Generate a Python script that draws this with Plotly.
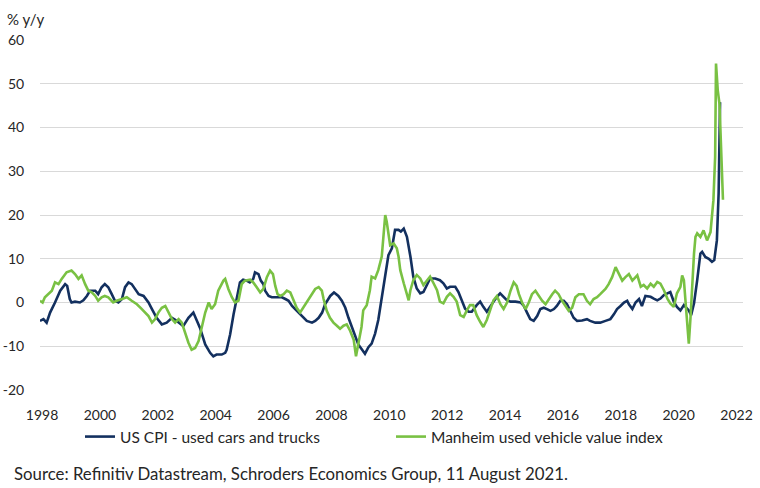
import plotly.graph_objects as go

# US CPI - used cars and trucks (% y/y), time in decimal years
cpi_t = [1997.93, 1998.05, 1998.16, 1998.28, 1998.45, 1998.63, 1998.80, 1998.87, 1998.96, 1999.02,
         1999.14, 1999.31, 1999.43, 1999.55, 1999.66, 1999.84, 1999.94, 2000.06, 2000.17, 2000.29,
         2000.41, 2000.52, 2000.64, 2000.76, 2000.87, 2000.99, 2001.10, 2001.22, 2001.34, 2001.51,
         2001.68, 2001.80, 2001.96, 2002.14, 2002.31, 2002.49, 2002.66, 2002.88, 2003.06, 2003.23,
         2003.46, 2003.64, 2003.81, 2003.92, 2004.03, 2004.21, 2004.33, 2004.38, 2004.50, 2004.62,
         2004.73, 2004.84, 2004.95, 2005.07, 2005.18, 2005.30, 2005.36, 2005.48, 2005.56, 2005.65,
         2005.71, 2005.83, 2005.94, 2006.12, 2006.29, 2006.41, 2006.52, 2006.64, 2006.80, 2006.98,
         2007.15, 2007.33, 2007.44, 2007.56, 2007.68, 2007.78, 2007.96, 2008.09, 2008.24, 2008.36,
         2008.48, 2008.59, 2008.77, 2008.93, 2009.16, 2009.28, 2009.39, 2009.51, 2009.62, 2009.74,
         2009.86, 2009.97, 2010.09, 2010.20, 2010.32, 2010.40, 2010.50, 2010.61, 2010.73, 2010.83,
         2010.95, 2011.07, 2011.18, 2011.30, 2011.41, 2011.59, 2011.75, 2011.87, 2011.99, 2012.10,
         2012.28, 2012.39, 2012.51, 2012.62, 2012.74, 2012.85, 2013.02, 2013.14, 2013.25, 2013.37,
         2013.48, 2013.60, 2013.72, 2013.83, 2013.95, 2014.07, 2014.19, 2014.36, 2014.54, 2014.65,
         2014.76, 2014.87, 2014.99, 2015.11, 2015.22, 2015.34, 2015.45, 2015.57, 2015.69, 2015.79,
         2015.91, 2016.03, 2016.14, 2016.26, 2016.37, 2016.49, 2016.66, 2016.83, 2016.94, 2017.12,
         2017.29, 2017.47, 2017.64, 2017.76, 2017.87, 2017.99, 2018.11, 2018.22, 2018.28, 2018.40,
         2018.51, 2018.63, 2018.73, 2018.85, 2019.03, 2019.14, 2019.26, 2019.37, 2019.49, 2019.61,
         2019.71, 2019.77, 2019.83, 2019.94, 2020.06, 2020.18, 2020.23, 2020.35, 2020.43, 2020.53,
         2020.64, 2020.75, 2020.81, 2020.92, 2021.04, 2021.15, 2021.23, 2021.32, 2021.38, 2021.43]
cpi_v = [-4.2, -3.8, -4.6, -2.3, 0.0, 2.7, 4.2, 3.8, 0.8, 0.0,
         0.2, 0.0, 0.5, 1.5, 2.7, 2.7, 1.9, 3.5, 4.2, 3.5,
         1.9, 0.4, 0.0, 0.8, 3.5, 4.6, 4.2, 3.1, 1.9, 1.5,
         0.0, -1.5, -3.5, -5.0, -4.6, -3.5, -4.2, -5.4, -3.5, -2.3,
         -5.8, -9.6, -11.5, -12.3, -11.9, -11.9, -11.5, -10.8, -7.3, -2.7,
         1.2, 4.6, 5.2, 5.0, 4.6, 5.4, 6.9, 6.5, 5.0, 4.2,
         2.7, 1.5, 1.2, 1.2, 1.2, 0.8, 0.4, -0.8, -1.9, -3.1,
         -4.2, -4.6, -4.2, -3.5, -2.3, -0.4, 1.5, 2.3, 1.5, 0.4,
         -1.2, -3.5, -6.5, -9.6, -11.7, -10.2, -9.4, -7.1, -4.0, 1.3,
         6.6, 10.8, 12.4, 16.6, 16.6, 16.2, 16.9, 15.0, 10.5, 5.9,
         3.2, 2.1, 2.4, 4.0, 5.5, 5.5, 5.1, 4.4, 3.2, 3.6,
         3.6, 2.4, 0.5, -1.4, -2.1, -2.1, -0.6, 0.2, -1.0, -2.1,
         -1.0, 0.2, 1.3, 2.1, 1.3, 0.5, 0.2, 0.2, 0.0, -0.8,
         -2.3, -3.8, -4.2, -3.1, -1.5, -1.2, -1.5, -1.9, -1.5, -0.8,
         0.4, 0.4, -0.4, -1.9, -3.5, -4.2, -4.1, -3.8, -4.2, -4.6,
         -4.6, -4.2, -3.8, -2.7, -1.5, -0.8, 0.0, 0.4, -0.4, -1.5,
         0.0, 0.8, -0.8, 1.5, 1.3, 0.9, 0.5, 0.9, 1.7, 2.1,
         2.4, 1.3, 0.2, -1.0, -1.8, -0.6, -1.0, -1.8, -2.9, -0.2,
         5.1, 11.2, 11.6, 10.4, 10.0, 9.3, 9.7, 14.2, 24.9, 45.8]

# Manheim used vehicle value index (% y/y), time in decimal years
man_t = [1997.93, 1998.02, 1998.10, 1998.22, 1998.34, 1998.45, 1998.57, 1998.68, 1998.85, 1999.02,
         1999.14, 1999.26, 1999.37, 1999.49, 1999.60, 1999.72, 1999.84, 1999.94, 2000.06, 2000.17,
         2000.29, 2000.46, 2000.58, 2000.76, 2000.93, 2001.10, 2001.28, 2001.45, 2001.57, 2001.68,
         2001.80, 2001.91, 2002.02, 2002.14, 2002.26, 2002.37, 2002.49, 2002.60, 2002.72, 2002.83,
         2002.94, 2003.06, 2003.17, 2003.29, 2003.41, 2003.52, 2003.64, 2003.76, 2003.86, 2003.98,
         2004.09, 2004.27, 2004.33, 2004.44, 2004.56, 2004.67, 2004.79, 2004.90, 2005.01, 2005.19,
         2005.30, 2005.42, 2005.54, 2005.65, 2005.77, 2005.88, 2005.98, 2006.06, 2006.14, 2006.23,
         2006.35, 2006.46, 2006.58, 2006.70, 2006.80, 2006.92, 2007.03, 2007.21, 2007.33, 2007.44,
         2007.56, 2007.67, 2007.73, 2007.84, 2007.95, 2008.07, 2008.19, 2008.30, 2008.42, 2008.53,
         2008.65, 2008.77, 2008.85, 2008.93, 2009.04, 2009.10, 2009.22, 2009.33, 2009.39, 2009.51,
         2009.62, 2009.74, 2009.80, 2009.86, 2009.91, 2010.03, 2010.15, 2010.26, 2010.32, 2010.38,
         2010.50, 2010.61, 2010.67, 2010.73, 2010.83, 2010.95, 2011.07, 2011.18, 2011.30, 2011.41,
         2011.53, 2011.65, 2011.75, 2011.87, 2011.99, 2012.10, 2012.22, 2012.33, 2012.45, 2012.57,
         2012.68, 2012.79, 2012.90, 2013.02, 2013.14, 2013.25, 2013.37, 2013.48, 2013.60, 2013.72,
         2013.84, 2013.95, 2014.07, 2014.19, 2014.30, 2014.40, 2014.48, 2014.59, 2014.71, 2014.82,
         2014.93, 2015.05, 2015.16, 2015.28, 2015.40, 2015.51, 2015.63, 2015.73, 2015.85, 2015.97,
         2016.08, 2016.20, 2016.32, 2016.43, 2016.55, 2016.71, 2016.83, 2016.94, 2017.06, 2017.18,
         2017.29, 2017.47, 2017.58, 2017.70, 2017.82, 2017.93, 2018.05, 2018.16, 2018.28, 2018.40,
         2018.51, 2018.57, 2018.69, 2018.79, 2018.91, 2019.03, 2019.14, 2019.26, 2019.37, 2019.49,
         2019.61, 2019.71, 2019.83, 2019.94, 2020.06, 2020.12, 2020.18, 2020.23, 2020.29, 2020.35,
         2020.41, 2020.47, 2020.53, 2020.58, 2020.64, 2020.75, 2020.86, 2020.98, 2021.10, 2021.20,
         2021.26, 2021.29, 2021.35, 2021.41, 2021.47, 2021.53]
man_v = [0.4, 0.0, 1.2, 1.9, 2.7, 4.6, 4.2, 5.4, 6.9, 7.3,
         6.5, 5.4, 6.2, 4.2, 2.7, 2.3, 1.5, 0.4, 1.2, 1.5,
         1.2, 0.0, 0.4, 0.8, 1.2, 0.4, -0.4, -1.5, -2.3, -3.1,
         -4.6, -3.8, -2.3, -1.2, -0.8, -2.3, -3.8, -4.6, -3.8, -4.6,
         -6.9, -9.2, -10.8, -10.4, -8.8, -5.8, -2.3, 0.0, -1.5, -0.4,
         2.7, 5.0, 5.4, 3.1, 1.2, 0.0, 0.4, 4.2, 5.0, 5.2,
         4.6, 3.5, 2.3, 3.1, 5.8, 7.3, 6.5, 3.8, 1.9, 1.5,
         1.9, 2.7, 2.3, 0.4, -1.2, -2.3, -1.2, 0.8, 1.9, 3.1,
         3.5, 2.7, 0.8, -1.9, -3.5, -4.6, -5.3, -6.0, -5.3, -5.0,
         -6.5, -8.5, -12.3, -9.8, -5.6, -1.8, -0.6, 2.8, 5.9, 5.5,
         7.4, 10.5, 15.0, 20.0, 18.5, 13.1, 13.5, 12.4, 10.5, 7.4,
         4.4, 2.1, 0.5, 2.8, 5.1, 6.3, 5.5, 4.0, 5.1, 5.9,
         4.4, 2.8, 0.2, -0.2, 1.3, 2.1, 1.3, 0.2, -2.9, -3.3,
         -1.8, -0.6, -0.6, -2.9, -4.4, -5.6, -4.0, -1.8, 0.5, 1.5,
         -0.4, -1.5, 0.0, 2.7, 4.6, 3.8, 1.9, 0.0, -1.5, 0.0,
         1.9, 2.7, 1.5, 0.4, -0.4, 0.8, 1.9, 2.7, 1.9, 0.4,
         -0.8, -1.9, -1.2, 1.2, 1.9, 1.9, 0.4, -0.4, 0.8, 1.2,
         1.9, 3.1, 4.2, 5.8, 8.1, 6.5, 5.0, 5.8, 6.5, 5.0,
         5.8, 6.2, 3.6, 4.0, 3.2, 4.3, 3.6, 4.7, 4.3, 2.8,
         0.9, -0.2, -1.0, 2.1, 3.6, 6.2, 5.1, 0.5, -4.8, -9.4,
         -3.3, 5.1, 11.2, 15.0, 15.8, 15.0, 16.5, 14.2, 16.1, 23.4,
         33.3, 54.6, 48.5, 45.4, 35.5, 23.5]

series_names = ["US CPI - used cars and trucks", "Manheim used vehicle value index"]
x_ticks = [1998, 2000, 2002, 2004, 2006, 2008, 2010, 2012, 2014, 2016, 2018, 2020, 2022]
y_ticks = [-20, -10, 0, 10, 20, 30, 40, 50, 60]
y_tick_labels = ["-20", "-10", "0", "10", "20", "30", "40", "50", "60"]

FONT = "Lato"
TXT = "#262626"

fig = go.Figure()
fig.add_trace(go.Scatter(x=cpi_t, y=cpi_v, mode="lines", name=series_names[0],
                         line=dict(color="#13305f", width=2.6)))
fig.add_trace(go.Scatter(x=man_t, y=man_v, mode="lines", name=series_names[1],
                         line=dict(color="#79c143", width=2.6)))

W, H = 760, 488
L, R, T, B = 40, 17, 40, 98
pw, ph = W - L - R, H - T - B
PX_PER_YEAR = 28.94
x0 = 1998 - 2 / PX_PER_YEAR

fig.update_layout(
    width=W, height=H,
    margin=dict(l=L, r=R, t=T, b=B, pad=0, autoexpand=False),
    paper_bgcolor="white", plot_bgcolor="white",
    font=dict(family=FONT, size=14, color=TXT),
    showlegend=True,
    legend=dict(orientation="h", xref="container", yref="container",
                x=80 / W, y=1 - 437 / H, xanchor="left", yanchor="middle",
                entrywidth=266, entrywidthmode="pixels", itemwidth=30,
                font=dict(family=FONT, size=15.5, color=TXT), bgcolor="rgba(0,0,0,0)"),
    xaxis=dict(range=[x0, x0 + pw / PX_PER_YEAR], tickvals=x_ticks,
               ticktext=[str(v) for v in x_ticks], showgrid=False, zeroline=False,
               showline=False, ticks="outside", ticklen=12, tickcolor="rgba(0,0,0,0)",
               automargin=False, tickfont=dict(family=FONT, size=14, color=TXT)),
    yaxis=dict(range=[-20, 60], tickvals=y_ticks, ticktext=y_tick_labels,
               showgrid=True, gridcolor="#d9d9d9",
               gridwidth=1, zeroline=False, showline=False, ticks="outside", ticklen=12,
               tickcolor="rgba(0,0,0,0)", automargin=False,
               tickfont=dict(family=FONT, size=14, color=TXT)),
    annotations=[
        dict(text="% y/y", xref="paper", yref="paper", x=(5 - L) / pw, y=(H - B - 19) / ph,
             xanchor="left", yanchor="middle", showarrow=False,
             font=dict(family=FONT, size=15, color=TXT)),
        dict(text="Source: Refinitiv Datastream, Schroders Economics Group, 11 August 2021.",
             xref="paper", yref="paper", x=(12 - L) / pw, y=(H - B - 473) / ph,
             xanchor="left", yanchor="middle", showarrow=False,
             font=dict(family=FONT, size=16.8, color=TXT)),
    ],
)

fig.write_html("out.html", config={"displayModeBar": False},
               post_script="document.body.style.margin='0px';document.body.style.overflow='hidden';")
